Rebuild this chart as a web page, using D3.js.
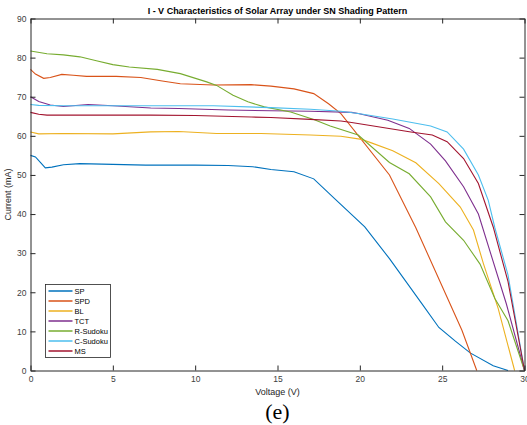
<!DOCTYPE html>
<html>
<head>
<meta charset="utf-8">
<script src="https://cdn.jsdelivr.net/npm/d3@7"></script>
<style>
  body { margin: 0; background: #fff; }
  svg { display: block; font-family: "Liberation Sans", Arial, sans-serif; }
  .axis path, .axis line { stroke: #262626; }
  .axis text { fill: #404040; font-size: 8.5px; }
</style>
</head>
<body>
<svg width="527" height="425"></svg>
<script>
// voltage (V), current (mA) pairs
var sp = [[0,55.0],[0.3,54.6],[0.6,53.2],[0.9,51.8],[1.3,52.0],[2,52.6],[3,52.9],[5,52.7],[7,52.5],[10,52.5],[12,52.4],[13.5,52.1],[14.6,51.4],[16,50.8],[17.2,49.0],[18.5,43.8],[20.3,36.7],[21.8,28.6],[23.7,17.5],[24.8,11.0],[25.8,7.5],[26.7,4.5],[28.1,1.2],[29,0]];
var spd = [[0,77.0],[0.3,75.8],[0.8,74.7],[1.2,74.9],[1.9,75.7],[2.6,75.5],[3.4,75.2],[5.2,75.2],[6.7,74.9],[8,74.0],[9.1,73.3],[11.1,73.0],[13.4,73.1],[14.6,72.7],[16,72.0],[17.2,70.8],[18.1,68.2],[18.85,65.7],[21.8,50.0],[23.4,36.5],[26.2,10.3],[27.1,0]];
var bl = [[0,61.0],[0.5,60.5],[2,60.6],[5,60.5],[7.3,61.0],[9,61.1],[11.3,60.6],[14,60.6],[17,60.2],[18.85,59.9],[20.1,59.1],[20.7,58.2],[22,56.2],[23.4,53.1],[24.8,47.8],[26.1,41.8],[26.9,35.9],[27.5,27.4],[28.4,15.9],[29.4,0]];
var tct = [[0,70.0],[0.5,68.8],[1.2,67.9],[2,67.5],[3.5,68.0],[5,67.7],[7.3,67.1],[9,67.0],[12,66.6],[14.6,66.4],[17,66.3],[19.5,66.0],[19.9,65.7],[21.7,64.0],[23,61.9],[24.3,57.9],[25.2,53.6],[26.3,47.0],[27.2,40.0],[28.9,17.0],[30,0]];
var rSudoku = [[0,81.7],[1,81.0],[2,80.7],[3,80.2],[4,79.2],[5,78.2],[6,77.6],[7.7,77.0],[9.1,75.9],[10.7,73.8],[11.3,72.9],[12.3,70.4],[13.2,68.7],[14.2,67.4],[15.8,66.1],[17.2,64.2],[18.2,62.5],[19.9,60.2],[21.8,53.2],[23,50.3],[24.3,44.4],[25.2,38.0],[26.3,33.3],[27.3,27.2],[28.2,18.4],[29,12.7],[30,0]];
var cSudoku = [[0,68.0],[0.5,67.8],[2,67.7],[5,67.7],[8,67.7],[11.1,67.7],[14.6,67.2],[17,66.8],[18.85,66.3],[19.9,65.7],[22,64.3],[24.3,62.5],[25.3,61.0],[26.3,56.6],[27.2,50.0],[27.8,43.5],[28.2,36.5],[29,24.4],[30,0]];
var ms = [[0,66.0],[0.5,65.5],[1,65.3],[3,65.3],[7.3,65.3],[10,65.2],[13.4,64.8],[14.6,64.7],[17,64.2],[18.85,63.8],[19.5,63.4],[23.1,61.0],[24.4,60.2],[25.3,58.5],[26.3,54.2],[27.2,47.8],[28.1,36.7],[29,22.7],[30,0]];

var names = ["SP", "SPD", "BL", "TCT", "R-Sudoku", "C-Sudoku", "MS"];
var colors = ["#0072BD", "#D95319", "#EDB120", "#7E2F8E", "#77AC30", "#4DBEEE", "#A2142F"];
var seriesData = [sp, spd, bl, tct, rSudoku, cSudoku, ms];
var xTicks = [0, 5, 10, 15, 20, 25, 30];
var yTicks = [0, 10, 20, 30, 40, 50, 60, 70, 80, 90];

var svg = d3.select("svg");
var plotLeft = 30.5, plotRight = 524.5, plotTop = 18.5, plotBottom = 370.5;

var x = d3.scaleLinear().domain([0, 30]).range([plotLeft, plotRight]);
var y = d3.scaleLinear().domain([0, 90]).range([plotBottom, plotTop]);

var line = d3.line()
    .x(function(d) { return x(d[0]); })
    .y(function(d) { return y(d[1]); });

// curves
var plot = svg.append("g");
seriesData.forEach(function(s, i) {
  plot.append("path")
    .datum(s)
    .attr("fill", "none")
    .attr("stroke", colors[i])
    .attr("stroke-width", 1.1)
    .attr("d", line);
});

// box axes, ticks inward
svg.append("g").attr("class", "axis")
  .attr("transform", "translate(0," + plotBottom + ")")
  .call(d3.axisBottom(x).tickValues(xTicks).tickSizeInner(-5).tickSizeOuter(0).tickPadding(5));
svg.append("g").attr("class", "axis")
  .attr("transform", "translate(0," + plotTop + ")")
  .call(d3.axisTop(x).tickValues(xTicks).tickSizeInner(-5).tickSizeOuter(0).tickFormat(""));
svg.append("g").attr("class", "axis")
  .attr("transform", "translate(" + plotLeft + ",0)")
  .call(d3.axisLeft(y).tickValues(yTicks).tickSizeInner(-5).tickSizeOuter(0).tickPadding(4));
svg.append("g").attr("class", "axis")
  .attr("transform", "translate(" + plotRight + ",0)")
  .call(d3.axisRight(y).tickValues(yTicks).tickSizeInner(-5).tickSizeOuter(0).tickFormat(""));

// title and labels
svg.append("text")
  .attr("x", (plotLeft + plotRight) / 2).attr("y", 14)
  .attr("text-anchor", "middle")
  .style("font-size", "9px").style("font-weight", "bold").attr("fill", "#000")
  .text("I - V Characteristics of Solar Array under SN Shading Pattern");

svg.append("text")
  .attr("x", (plotLeft + plotRight) / 2).attr("y", 395)
  .attr("text-anchor", "middle")
  .style("font-size", "9px").attr("fill", "#262626")
  .text("Voltage (V)");

svg.append("text")
  .attr("transform", "translate(11," + ((plotTop + plotBottom) / 2) + ") rotate(-90)")
  .attr("text-anchor", "middle")
  .style("font-size", "9px").attr("fill", "#262626")
  .text("Current (mA)");

svg.append("text")
  .attr("x", (plotLeft + plotRight) / 2).attr("y", 419)
  .attr("text-anchor", "middle")
  .style("font-family", "'Liberation Serif', 'Times New Roman', serif")
  .style("font-size", "22px").attr("fill", "#000")
  .text("(e)");

// legend
var legend = svg.append("g").attr("transform", "translate(45.5,284.5)");
legend.append("rect")
  .attr("width", 65).attr("height", 73)
  .attr("fill", "#fff").attr("stroke", "#262626").attr("stroke-width", 0.8);

var item = legend.selectAll("g.item")
  .data(names)
  .enter().append("g")
  .attr("class", "item")
  .attr("transform", function(d, i) { return "translate(0," + (6.5 + i * 10) + ")"; });

item.append("line")
  .attr("x1", 3).attr("x2", 27)
  .attr("stroke", function(d, i) { return colors[i]; })
  .attr("stroke-width", 1.5);

item.append("text")
  .attr("x", 29).attr("dy", "0.35em")
  .style("font-size", "7.5px").attr("fill", "#000")
  .text(function(d) { return d; });
</script>
</body>
</html>
